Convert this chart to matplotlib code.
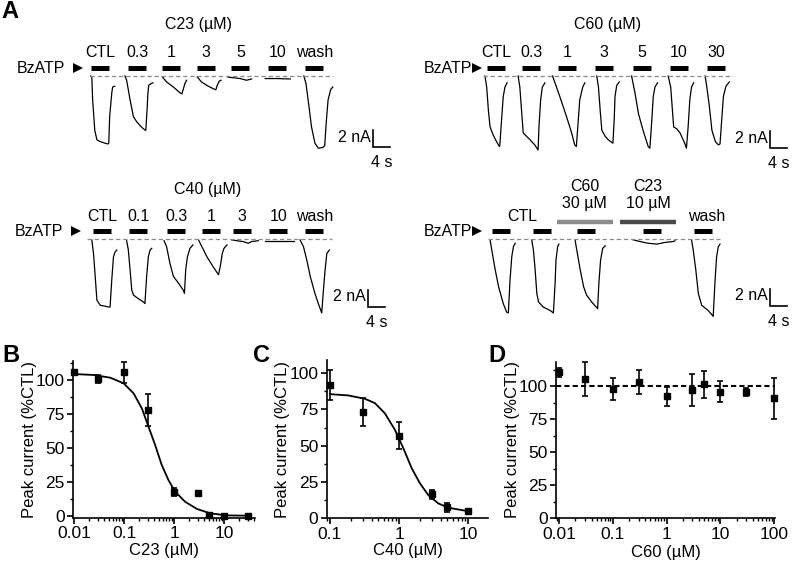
import numpy as np
import matplotlib
matplotlib.use('Agg')
import matplotlib.pyplot as plt
from matplotlib.ticker import FixedLocator, FixedFormatter, MultipleLocator, LogLocator, NullFormatter

plt.rcParams['font.family'] = ['Liberation Sans', 'DejaVu Sans']

# ---------------- panel A: current traces (time in s from panel edge, current in nA) ----------------
# C23 series
c23_labels = ['CTL', '0.3', '1', '3', '5', '10', 'wash']
c23_bar_starts = [21.4, 30.1, 38.1, 46.4, 54.4, 63.1, 71.8]
c23_onsets = [21.3, 29.4, 38.2, 46.4, 53.7, 62.4, 71.5]
c23_dt = [
    [0, 0.3, 0.5, 1.0, 1.5, 2.2, 3.4, 4.1, 4.3, 4.5, 5.0, 5.2, 5.7],
    [0, 0.4, 1.2, 2.0, 2.8, 3.5, 4.3, 4.9, 5.2, 5.4, 5.6, 6.1, 6.6],
    [0, 1.0, 2.6, 4.2, 4.6, 4.9, 5.3, 5.7],
    [0, 1.0, 2.6, 4.2, 4.4, 4.7, 5.2, 5.6],
    [0, 1.2, 2.8, 4.3, 5.1, 5.5],
    [0, 2.8, 5.9],
    [0, 0.5, 1.0, 1.8, 2.6, 3.4, 4.5, 4.9, 5.3, 5.7, 6.3, 6.8],
]
c23_amp = [
    [0, -0.1, -2.8, -6.4, -7.5, -7.7, -7.9, -8.0, -7.9, -4.8, -2.0, -1.3, -1.2],
    [0, -0.5, -2.8, -4.8, -5.4, -5.8, -6.2, -6.4, -4.0, -2.0, -1.1, -0.9, -0.8],
    [-0.1, -0.7, -1.3, -2.0, -2.1, -1.6, -0.9, -0.5],
    [-0.1, -0.7, -1.2, -1.6, -1.6, -1.1, -0.6, -0.5],
    [-0.15, -0.2, -0.3, -0.5, -0.4, -0.35],
    [-0.3, -0.3, -0.35],
    [0, -0.9, -2.8, -6.0, -7.9, -8.5, -8.4, -8.2, -5.2, -2.8, -1.6, -1.3],
]

# C60 series
c60_labels = ['CTL', '0.3', '1', '3', '5', '10', '30']
c60_bar_starts = [21.2, 29.4, 37.9, 46.6, 55.5, 64.2, 72.9]
c60_onsets = [20.7, 28.5, 36.6, 47.0, 55.2, 63.8, 72.5]
c60_dt = [
    [0, 0.4, 0.8, 1.2, 1.9, 2.7, 3.4, 3.5, 3.9, 4.3, 4.7, 5.2],
    [0, 0.4, 0.8, 1.2, 2.0, 2.8, 3.9, 4.7, 4.9, 5.3, 5.7, 6.3],
    [0, 0.5, 1.7, 3.3, 4.5, 5.2, 5.6, 6.0, 6.4, 7.1, 7.6],
    [0, 0.4, 0.8, 1.2, 2.0, 2.7, 3.8, 4.1, 4.3, 4.7, 5.3],
    [0, 0.8, 1.6, 2.7, 3.9, 4.3, 4.7, 5.1, 5.5, 6.1],
    [0, 0.6, 1.0, 1.3, 2.0, 2.8, 3.9, 4.3, 4.7, 5.1, 5.5, 6.0],
    [0, 0.4, 1.0, 1.6, 2.4, 3.1, 3.5, 3.9, 4.3, 4.9, 5.7],
]
c60_amp = [
    [0, -1.3, -4.0, -6.0, -6.9, -7.7, -8.3, -8.1, -5.2, -2.4, -1.3, -0.8],
    [0, -1.3, -4.0, -6.7, -7.1, -7.5, -8.1, -8.7, -6.0, -2.8, -1.3, -0.8],
    [0, -0.7, -2.4, -4.8, -6.7, -8.1, -8.3, -5.6, -2.8, -1.3, -0.8],
    [0, -1.3, -4.0, -6.4, -7.1, -7.5, -7.9, -5.2, -2.4, -1.1, -0.7],
    [0, -2.0, -4.4, -6.4, -8.3, -8.5, -5.6, -2.4, -1.3, -0.8],
    [0, -1.3, -4.0, -6.0, -6.2, -6.7, -7.9, -8.5, -6.0, -2.8, -1.3, -0.8],
    [0, -1.3, -3.6, -6.4, -7.7, -8.1, -8.0, -5.2, -2.4, -1.2, -0.7],
]

# C40 series
c40_labels = ['CTL', '0.1', '0.3', '1', '3', '10', 'wash']
c40_bar_starts = [21.9, 30.4, 39.3, 47.5, 54.8, 63.3, 71.8]
c40_onsets = [21.6, 29.8, 38.6, 46.7, 54.5, 62.4, 70.6]
c40_dt = [
    [0, 0.4, 0.8, 1.2, 2.0, 3.1, 3.9, 4.3, 4.7, 5.1, 5.5, 5.9],
    [0, 0.4, 0.8, 1.2, 1.6, 2.7, 3.9, 4.3, 4.7, 5.1, 5.5, 5.9],
    [0, 0.6, 1.4, 2.2, 3.4, 4.5, 4.8, 5.1, 5.5, 6.1, 6.8],
    [0, 0.8, 2.0, 3.5, 4.7, 5.1, 5.6, 6.0, 6.7],
    [0, 1.2, 2.7, 3.9, 4.7, 6.3],
    [0, 2.8, 5.1, 6.7],
    [0, 0.8, 1.6, 2.4, 3.5, 4.3, 5.1, 5.5, 5.9, 6.3, 6.9],
]
c40_amp = [
    [-0.1, -1.7, -4.4, -7.2, -7.8, -7.9, -8.0, -8.0, -4.8, -2.1, -1.5, -1.3],
    [-0.2, -1.3, -3.6, -6.0, -6.6, -7.0, -7.4, -7.6, -4.4, -2.1, -1.3, -1.1],
    [-0.2, -0.9, -2.9, -4.4, -5.2, -6.0, -6.4, -3.6, -2.1, -1.1, -0.7],
    [-0.1, -0.9, -2.1, -3.3, -4.2, -3.3, -1.7, -1.1, -0.7],
    [-0.1, -0.2, -0.3, -0.5, -0.3, -0.2],
    [-0.2, -0.2, -0.2, -0.2],
    [-0.1, -0.9, -2.5, -4.4, -6.4, -7.6, -8.7, -6.0, -3.6, -1.7, -1.3],
]

# co-application series: CTL, CTL, C60 30 uM, C23 10 uM, wash
mix_bar_starts = [22.4, 32.0, 42.4, 57.9, 69.9]
mix_onsets = [21.9, 31.7, 41.9, 55.6, 69.3]
mix_dt = [
    [0, 0.4, 1.2, 2.0, 3.1, 3.9, 4.3, 4.7, 5.1, 5.5, 5.9],
    [0, 0.4, 0.8, 1.2, 1.6, 2.7, 4.3, 5.1, 5.5, 5.7, 6.1, 6.4],
    [0, 0.4, 1.2, 2.0, 2.7, 3.9, 5.3, 5.6, 6.0, 6.5, 7.1],
    [0, 1.6, 3.5, 5.5, 7.5, 9.4, 9.8],
    [0, 0.4, 1.0, 1.6, 2.4, 3.9, 5.1, 5.5, 5.9, 6.3, 6.7],
]
mix_amp = [
    [-0.1, -1.3, -3.6, -5.6, -7.6, -8.6, -8.7, -4.8, -2.1, -0.9, -0.5],
    [-0.1, -1.3, -3.6, -6.4, -7.4, -8.0, -8.4, -8.7, -5.2, -2.5, -0.9, -0.6],
    [-0.1, -1.3, -3.6, -5.6, -6.6, -7.4, -8.2, -5.2, -2.5, -1.1, -0.8],
    [-0.1, -0.3, -0.5, -0.6, -0.4, -0.3, -0.2],
    [-0.1, -1.3, -3.6, -6.4, -7.8, -8.4, -9.1, -5.2, -2.1, -0.9, -0.6],
]
mix_drug_windows = [(37.6, 50.8), (52.5, 65.6)]
mix_drug_labels = ['C60\n30 µM', 'C23\n10 µM']
mix_drug_colors = ['#8c8c8c', '#4a4a4a']

BZATP_DURATION = 4.3

# ---------------- panels B-D: concentration-response ----------------
b_conc = [0.01, 0.03, 0.1, 0.3, 1, 3, 5, 10, 30]
b_resp = [105.6, 100.7, 105.6, 77.9, 17.7, 16.5, 0.3, 0.0, 0.0]
b_err = [1.0, 3.0, 7.5, 12.0, 3.0, 1.0, 0.5, 0.5, 0.5]
b_fit_x = [0.0097, 0.0243, 0.0525, 0.097, 0.154, 0.226, 0.307, 0.417, 0.566,
           0.77, 1.05, 1.66, 2.9, 5.25, 11.2, 33]
b_fit_y = [104.4, 103.7, 101.7, 97.6, 90.2, 79.1, 65.6, 52.1, 37.4,
           26.3, 17.7, 10.3, 4.9, 1.8, 0.2, 0.0]

c_conc = [0.1, 0.3, 1, 3, 5, 10]
c_resp = [91.9, 73.1, 57.0, 16.5, 7.6, 5.3]
c_err = [10.1, 9.8, 9.3, 3.1, 3.1, 1.0]
c_fit_x = [0.1, 0.184, 0.32, 0.447, 0.62, 0.87, 1.15, 1.52, 2.0, 2.63, 3.67, 5.14, 8.9, 10]
c_fit_y = [85.5, 84.6, 82.3, 79.3, 72.4, 60.9, 48.3, 34.5, 24.1, 16.1, 10.3, 7.3, 5.3, 5.0]

d_conc = [0.01, 0.03, 0.1, 0.3, 1, 3, 5, 10, 30, 100]
d_resp = [110.3, 105.3, 97.7, 102.8, 92.2, 97.0, 101.3, 95.7, 95.2, 90.7]
d_err = [3.2, 13.0, 8.5, 9.0, 7.3, 12.0, 10.0, 7.8, 3.0, 15.5]

W, H = 794, 569
PX_PER_S = 4.25
PX_PER_NA = 8.5
fig = plt.figure(figsize=(W / 100, H / 100), dpi=100)


def px_axes(x0, y0, w, h):
    return fig.add_axes([x0 / W, 1 - (y0 + h) / H, w / W, h / H])


def trace_axes(x0, y0, w, h, base_px):
    ax = px_axes(x0, y0, w, h)
    ax.set_xlim(0, w / PX_PER_S)
    ax.set_ylim(-(y0 + h - base_px) / PX_PER_NA, (base_px - y0) / PX_PER_NA)
    ax.axis('off')
    return ax


def draw_traces(ax, onsets, dts, amps):
    for t0, dt, amp in zip(onsets, dts, amps):
        ax.plot(t0 + np.array(dt), amp, color='black', lw=0.9)


def draw_bars(ax, starts, y=0.94):
    for s in starts:
        ax.plot([s, s + BZATP_DURATION], [y, y], color='black', lw=3.6,
                solid_capstyle='butt')


def draw_common(ax, base_x, text_x, arrow_x, scale_x, scale_top, bar_y=0.94):
    ax.plot(base_x, [0, 0], color='#8a8a8a', lw=0.9, dashes=(3.5, 2.2))
    ax.text(text_x, bar_y, 'BzATP', ha='right', va='center', fontsize=11.5)
    ax.plot([arrow_x], [bar_y], marker='>', color='black', ms=7.5, mew=0)
    # scale bar: 2 nA / 4 s
    ax.plot([scale_x, scale_x, scale_x + 4], [scale_top, scale_top - 2, scale_top - 2],
            color='black', lw=1.2, solid_joinstyle='miter')
    ax.text(scale_x - 0.5, scale_top - 0.8, '2 nA', ha='right', va='center', fontsize=11.5)
    ax.text(scale_x + 2, scale_top - 3.8, '4 s', ha='center', va='center', fontsize=11.5)


def label_bars(ax, starts, labels, y):
    for s, lab in zip(starts, labels):
        ax.text(s + BZATP_DURATION / 2, y, lab, ha='center', va='center', fontsize=11.5)


# A1: C23
ax1 = trace_axes(0, 0, 397, 170, 76)
draw_traces(ax1, c23_onsets, c23_dt, c23_amp)
draw_bars(ax1, c23_bar_starts)
label_bars(ax1, c23_bar_starts, c23_labels, 2.8)
ax1.text(46.6, 6.0, 'C23 (µM)', ha='center', va='center', fontsize=11.5)
draw_common(ax1, [21.2, 78.4], 15.3, 18.4, 87.8, -6.4)

# A2: C60
ax2 = trace_axes(397, 0, 397, 170, 76)
draw_traces(ax2, c60_onsets, c60_dt, c60_amp)
draw_bars(ax2, c60_bar_starts)
label_bars(ax2, c60_bar_starts, c60_labels, 2.8)
ax2.text(49.6, 6.0, 'C60 (µM)', ha='center', va='center', fontsize=11.5)
draw_common(ax2, [20.2, 79.1], 17.6, 18.9, 87.8, -6.5)

# A3: C40
ax3 = trace_axes(0, 170, 397, 165, 239)
draw_traces(ax3, c40_onsets, c40_dt, c40_amp)
draw_bars(ax3, c40_bar_starts)
label_bars(ax3, c40_bar_starts, c40_labels, 2.6)
ax3.text(48.9, 5.8, 'C40 (µM)', ha='center', va='center', fontsize=11.5)
draw_common(ax3, [20.5, 78.1], 14.8, 17.8, 86.6, -6.0)

# A4: co-application
ax4 = trace_axes(397, 170, 397, 165, 239)
draw_traces(ax4, mix_onsets, mix_dt, mix_amp)
draw_bars(ax4, mix_bar_starts)
for (s, e), lab, col in zip(mix_drug_windows, mix_drug_labels, mix_drug_colors):
    ax4.plot([s, e], [2.0, 2.0], color=col, lw=3.2, solid_capstyle='butt')
    ax4.text((s + e) / 2, 5.2, lab, ha='center', va='center', fontsize=11.5,
             linespacing=1.2)
ax4.text(29.4, 2.6, 'CTL', ha='center', va='center', fontsize=11.5)
ax4.text(72.9, 2.6, 'wash', ha='center', va='center', fontsize=11.5)
draw_common(ax4, [21.4, 76.0], 17.6, 18.9, 87.8, -5.9)


# ---------------- dose-response axes ----------------
def style_dose(ax, xticks, xlabel, ylab_x, xlab_y):
    ax.set_xscale('log')
    for side in ('top', 'right'):
        ax.spines[side].set_visible(False)
    for side in ('left', 'bottom'):
        ax.spines[side].set_linewidth(1.2)
    ax.xaxis.set_major_locator(FixedLocator(xticks))
    ax.xaxis.set_major_formatter(FixedFormatter([f'{t:g}' for t in xticks]))
    ax.xaxis.set_minor_locator(LogLocator(base=10, subs=np.arange(2, 10), numticks=20))
    ax.xaxis.set_minor_formatter(NullFormatter())
    ax.yaxis.set_major_locator(FixedLocator([0, 25, 50, 75, 100]))
    ax.yaxis.set_minor_locator(MultipleLocator(12.5))
    ax.tick_params(which='major', direction='out', length=4, width=1.2,
                   labelsize=12.5, pad=2)
    ax.tick_params(which='minor', direction='out', length=2.2, width=1.0)
    ax.set_ylabel('Peak current (%CTL)', fontsize=12)
    ax.yaxis.set_label_coords(ylab_x, 0.5)
    ax.set_xlabel(xlabel, fontsize=12)
    ax.xaxis.set_label_coords(0.5, xlab_y)
    ax.xaxis.label.set_va('center')
    ax.yaxis.label.set_va('center')


def draw_points(ax, x, y, err):
    ax.errorbar(x, y, yerr=err, fmt='s', color='black', ms=5, lw=1.2,
                capsize=2.2, capthick=1.2, clip_on=False, zorder=3)


axB = px_axes(73, 361, 182, 157)
axB.plot(b_fit_x, b_fit_y, color='black', lw=1.3)
draw_points(axB, b_conc, b_resp, b_err)
axB.set_xlim(0.0094, 42)
axB.set_ylim(-1.7, 114)
style_dose(axB, [0.01, 0.1, 1, 10], 'C23 (µM)', (30 - 73) / 182, (518 - 551) / 157)

axC = px_axes(326.7, 360, 161.6, 158.3)
axC.plot(c_fit_x, c_fit_y, color='black', lw=1.3)
draw_points(axC, c_conc, c_resp, c_err)
axC.set_xlim(0.0897, 19.5)
axC.set_ylim(0, 109)
style_dose(axC, [0.1, 1, 10], 'C40 (µM)', (283 - 326.7) / 161.6, (518.3 - 551) / 158.3)

axD = px_axes(556, 361.7, 219, 156.6)
axD.axhline(100, color='black', lw=1.5, dashes=(2.5, 1.5))
draw_points(axD, d_conc, d_resp, d_err)
axD.set_xlim(0.0087, 104)
axD.set_ylim(0, 118.4)
style_dose(axD, [0.01, 0.1, 1, 10, 100], 'C60 (µM)', (512 - 556) / 219, (518.3 - 553) / 156.6)

# panel letters
for letter, (x, y) in zip('ABCD', [(10, 12), (11, 355), (262, 355), (497, 356)]):
    fig.text(x / W, 1 - y / H, letter, ha='center', va='center',
             fontsize=17, fontweight='bold')

fig.savefig('out.png', dpi=100)
